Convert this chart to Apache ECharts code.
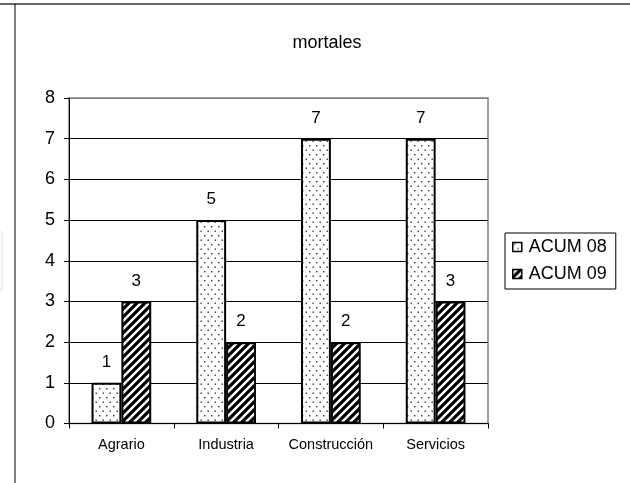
<!DOCTYPE html>
<html>
<head>
<meta charset="utf-8">
<script src="https://cdn.jsdelivr.net/npm/echarts@6/dist/echarts.min.js"></script>
<style>html,body{margin:0;padding:0;background:#fff}#c{width:630px;height:483px}</style>
</head>
<body>
<div id="c"></div>
<script>
const titleText = 'mortales';
const categories = ['Agrario', 'Industria', 'Construcción', 'Servicios'];
const seriesNames = ['ACUM 08', 'ACUM 09'];
const acum08 = [1, 5, 7, 7];
const acum09 = [3, 2, 2, 3];
const yTicks = [0, 1, 2, 3, 4, 5, 6, 7, 8];

function dotsTile() {
  const c = document.createElement('canvas');
  c.width = 7; c.height = 9;
  const g = c.getContext('2d');
  g.fillStyle = '#fff'; g.fillRect(0, 0, 7, 9);
  g.fillStyle = '#333';
  g.fillRect(1, 1, 1.4, 1.4);
  g.fillRect(4.5, 5.5, 1.4, 1.4);
  return c;
}
function stripeTile() {
  const c = document.createElement('canvas');
  c.width = 8; c.height = 8;
  const g = c.getContext('2d');
  g.fillStyle = '#fff'; g.fillRect(0, 0, 8, 8);
  g.strokeStyle = '#000'; g.lineWidth = 3.2;
  g.beginPath();
  g.moveTo(-2, 10); g.lineTo(10, -2);
  g.moveTo(-6, 6); g.lineTo(6, -6);
  g.moveTo(2, 14); g.lineTo(14, 2);
  g.stroke();
  return c;
}
const FONT = 'Liberation Sans, Arial, sans-serif';
const chart = echarts.init(document.getElementById('c'), null, {renderer: 'canvas'});
const splitColors = yTicks.map((v, i) => i === yTicks.length - 1 ? '#808080' : '#000');
chart.setOption({
  animation: false,
  backgroundColor: '#fff',
  title: {
    text: titleText, left: 322, top: 29, textAlign: 'center',
    textStyle: {fontFamily: FONT, fontSize: 18, fontWeight: 'normal', color: '#000'}
  },
  legend: {
    orient: 'vertical', left: 505, top: 233,
    borderColor: '#000', borderWidth: 1,
    padding: [5, 9, 6, 7],
    itemWidth: 9, itemHeight: 9, itemGap: 9,
    icon: 'rect',
    itemStyle: {borderColor: '#000', borderWidth: 1.5},
    textStyle: {fontFamily: FONT, fontSize: 18, color: '#000', padding: [0, 0, 0, 2]},
    data: seriesNames
  },
  grid: {left: 69, right: 142, top: 98, bottom: 59.5, show: true, borderColor: '#808080', borderWidth: 1.5, backgroundColor: '#fff'},
  xAxis: {
    type: 'category', data: categories,
    axisLine: {lineStyle: {color: '#000', width: 1}},
    axisTick: {show: true, length: 5, lineStyle: {color: '#000'}},
    axisLabel: {fontFamily: FONT, fontSize: 14.5, color: '#000', margin: 14, interval: 0, hideOverlap: false}
  },
  yAxis: {
    type: 'value', min: 0, max: 8, interval: 1,
    axisLine: {show: true, lineStyle: {color: '#000', width: 1}},
    axisTick: {show: true, length: 5, lineStyle: {color: '#000'}},
    axisLabel: {fontFamily: FONT, fontSize: 18, color: '#000', margin: 14},
    splitLine: {show: true, lineStyle: {color: splitColors, width: 1}}
  },
  series: [
    {
      name: seriesNames[0], type: 'bar', data: acum08,
      barGap: '0%', barCategoryGap: '43%',
      itemStyle: {color: {image: dotsTile(), repeat: 'repeat'}, borderColor: '#000', borderWidth: 2},
      label: {show: true, position: 'top', distance: 12, fontFamily: FONT, fontSize: 17, color: '#000'}
    },
    {
      name: seriesNames[1], type: 'bar', data: acum09,
      barGap: '0%', barCategoryGap: '43%',
      itemStyle: {color: {image: stripeTile(), repeat: 'repeat'}, borderColor: '#000', borderWidth: 2},
      label: {show: true, position: 'top', distance: 12, fontFamily: FONT, fontSize: 17, color: '#000'}
    }
  ],
  graphic: [
    {type: 'line', shape: {x1: 0, y1: 4, x2: 630, y2: 4}, style: {stroke: '#333', lineWidth: 1.5}, silent: true},
    {type: 'line', shape: {x1: 15, y1: 4, x2: 15, y2: 483}, style: {stroke: '#000', lineWidth: 1}, silent: true},
    {type: 'rect', shape: {x: -1, y: 232, width: 3, height: 58}, style: {fill: '#fff', stroke: '#ddd', lineWidth: 1}, silent: true}
  ]
});
</script>
</body>
</html>
